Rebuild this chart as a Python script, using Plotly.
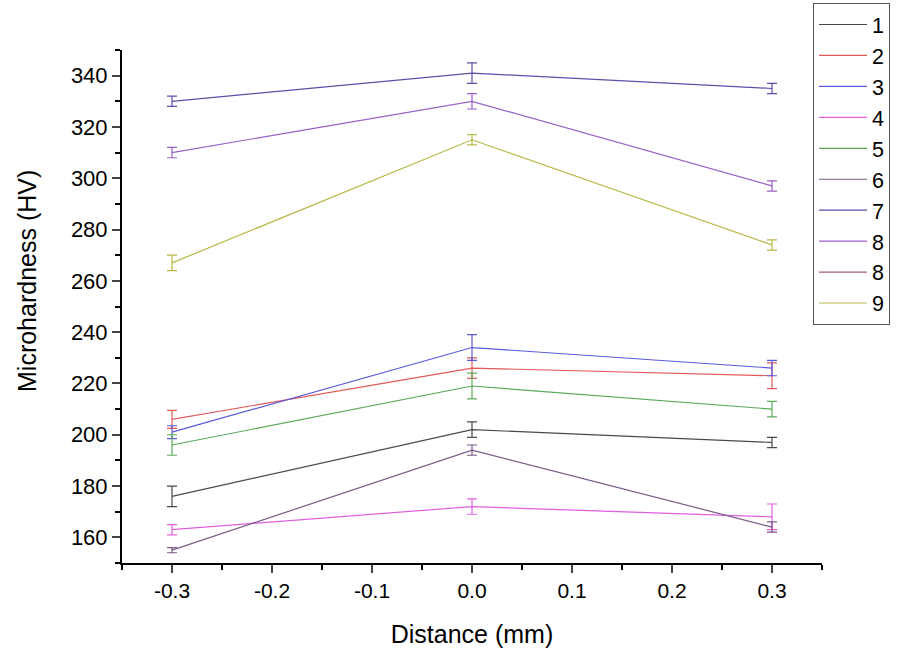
import plotly.graph_objects as go

distance = [-0.3, 0.0, 0.3]
x_tickvals = [-0.3, -0.2, -0.1, 0.0, 0.1, 0.2, 0.3]
x_ticktext = ["-0.3", "-0.2", "-0.1", "0.0", "0.1", "0.2", "0.3"]
y_tickvals = [160, 180, 200, 220, 240, 260, 280, 300, 320, 340]

names = ["1", "2", "3", "4", "5", "6", "7", "8", "8", "9"]
colors = ["#4a4a4a", "#e05a5a", "#5a5ad8", "#e060e0", "#5aa85a",
          "#7a5a8a", "#5a50a8", "#9a60c8", "#a05a78", "#b8b848"]

s1 = [176, 202, 197]
s2 = [206, 226, 223]
s3 = [201, 234, 226]
s4 = [163, 172, 168]
s5 = [196, 219, 210]
s6 = [155, 194, 164]
s7 = [330, 341, 335]
s8a = [310, 330, 297]
s8b = []
s9 = [267, 315, 274]

e1 = [4, 3, 2]
e2 = [3.5, 4, 5]
e3 = [2.5, 5, 3]
e4 = [2, 3, 5]
e5 = [4, 5, 3]
e6 = [1, 2, 2]
e7 = [2, 4, 2]
e8a = [2, 3, 2]
e8b = []
e9 = [3, 2, 2]

values = [s1, s2, s3, s4, s5, s6, s7, s8a, s8b, s9]
errors = [e1, e2, e3, e4, e5, e6, e7, e8a, e8b, e9]

fig = go.Figure()
for name, col, v, e in zip(names, colors, values, errors):
    if len(v) == 0:
        fig.add_trace(go.Scatter(x=[None], y=[None], mode="lines", name=name,
                                 line=dict(color=col, width=1.2)))
        continue
    fig.add_trace(go.Scatter(
        x=distance, y=v, mode="lines", name=name,
        line=dict(color=col, width=1.2),
        error_y=dict(type="data", array=e, visible=True, color=col,
                     thickness=1.2, width=5),
    ))

font_family = "Liberation Sans, Arial, sans-serif"

fig.update_layout(
    width=899, height=648,
    paper_bgcolor="white", plot_bgcolor="white",
    margin=dict(l=122, r=77, t=50, b=85, autoexpand=False),
    font=dict(family=font_family, size=22, color="black"),
    showlegend=True,
    legend=dict(
        xref="container", yref="container",
        x=813 / 899, y=1 - 3 / 648, xanchor="left", yanchor="top",
        bordercolor="#555555", borderwidth=1, bgcolor="white",
        font=dict(size=21.5), tracegroupgap=0, itemwidth=48,
        maxheight=640,
    ),
    xaxis=dict(
        title=dict(text="Distance (mm)", font=dict(size=25), standoff=28),
        range=[-0.35, 0.35], tickmode="array", tickvals=x_tickvals,
        ticktext=x_ticktext, ticks="outside", ticklen=8, tickwidth=2,
        showline=True, linecolor="black", linewidth=2,
        showgrid=False, zeroline=False,
        minor=dict(dtick=0.05, tick0=-0.35, ticks="outside", ticklen=5,
                   tickwidth=2, tickcolor="black", showgrid=False),
        tickfont=dict(size=21),
    ),
    yaxis=dict(
        range=[150, 350], tickmode="array", tickvals=y_tickvals,
        ticks="outside", ticklen=8, tickwidth=2,
        showline=True, linecolor="black", linewidth=2,
        showgrid=False, zeroline=False,
        minor=dict(dtick=10, tick0=150, ticks="outside", ticklen=5,
                   tickwidth=2, tickcolor="black", showgrid=False),
        tickfont=dict(size=22),
    ),
    annotations=[dict(
        text="Microhardness (HV)", textangle=-90, showarrow=False,
        xref="paper", yref="paper", x=(27 - 122) / 700, y=(563 - 281) / 513,
        xanchor="center", yanchor="middle", font=dict(size=25),
    )],
)

fig.write_html("out.html")
